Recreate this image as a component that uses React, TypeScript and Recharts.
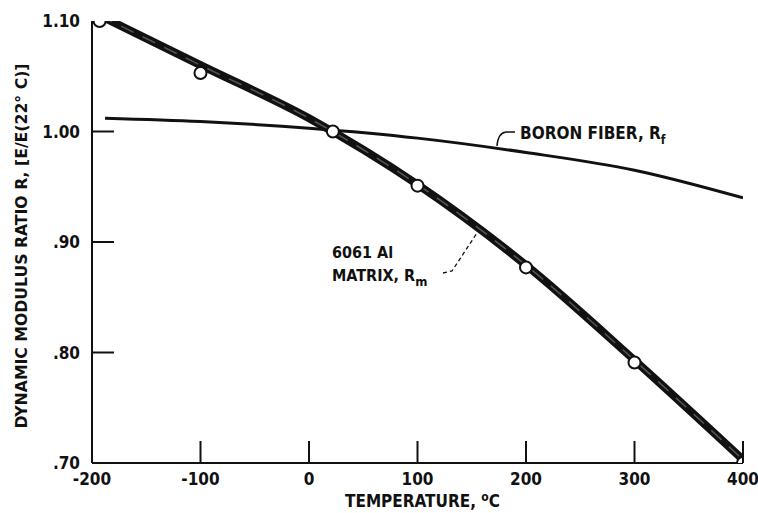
import React from "react";
import { ComposedChart, Line, Scatter, XAxis, YAxis } from "recharts";

// temperature, deg C
const matrixTemps = [-193, -100, 0, 100, 200, 300, 400];
const matrixRatio = [1.105, 1.06, 1.012, 0.952, 0.879, 0.793, 0.703];

const pointTemps = [-193, -100, 22, 100, 200, 300, 400];
const pointRatio = [1.1, 1.053, 1.0, 0.951, 0.877, 0.791, 0.7];

const fiberTemps = [-188, -100, 0, 100, 200, 300, 400];
const fiberRatio = [1.012, 1.009, 1.003, 0.994, 0.981, 0.965, 0.94];

const xTicks = [-200, -100, 0, 100, 200, 300, 400];
const yTicks = [0.7, 0.8, 0.9, 1.0, 1.1];

const matrixLine = matrixTemps.map((t, i) => ({ t, r: matrixRatio[i] }));
const matrixPoints = pointTemps.map((t, i) => ({ t, r: pointRatio[i] }));
const fiberLine = fiberTemps.map((t, i) => ({ t, r: fiberRatio[i] }));

const FONT = "'Liberation Sans Narrow', 'DejaVu Sans Condensed', 'Liberation Sans', sans-serif";

const fmtY = (v: number) => (v >= 1 ? v.toFixed(2) : v.toFixed(2).slice(1));

const YTick = (props: any) => {
  const { x, y, payload } = props;
  const v = payload.value;
  const axisX = x + 8;
  return (
    <g>
      <text x={x - 4} y={y + 6} textAnchor="end" fontFamily={FONT} fontWeight="bold" fontSize={17} fill="#111">
        {fmtY(v)}
      </text>
      {v > 0.75 && v < 1.05 && <line x1={axisX} x2={axisX + 22} y1={y} y2={y} stroke="#111" strokeWidth={2} />}
    </g>
  );
};

const XTick = (props: any) => {
  const { x, y, payload } = props;
  const v = payload.value;
  const axisY = y - 6;
  return (
    <g>
      <text x={x} y={axisY + 22} textAnchor="middle" fontFamily={FONT} fontWeight="bold" fontSize={17} fill="#111">
        {v}
      </text>
      {v > -200 && <line x1={x} x2={x} y1={axisY} y2={axisY - 22} stroke="#111" strokeWidth={2} />}
    </g>
  );
};

export default function App() {
  return (
    <div style={{ position: "absolute", left: 0, top: 0, background: "#fff" }}>
      <ComposedChart width={758} height={513} margin={{ top: 21, right: 15, bottom: 0, left: 0 }}>
        <XAxis
          dataKey="t"
          type="number"
          domain={[-200, 400]}
          ticks={xTicks}
          tickLine={false}
          tickSize={0}
          tickMargin={6}
          tick={<XTick />}
          height={50}
          axisLine={{ stroke: "#111", strokeWidth: 2 }}
          allowDataOverflow
        />
        <YAxis
          dataKey="r"
          type="number"
          domain={[0.7, 1.1]}
          ticks={yTicks}
          tickLine={false}
          tickSize={0}
          tickMargin={8}
          tick={<YTick />}
          width={92}
          axisLine={{ stroke: "#111", strokeWidth: 2 }}
          allowDataOverflow
        />
        <Line data={fiberLine} dataKey="r" type="monotone" stroke="#111" strokeWidth={3} dot={false} isAnimationActive={false} />
        <Line data={matrixLine} dataKey="r" type="monotone" stroke="#111" strokeWidth={8} dot={false} isAnimationActive={false} />
        <Line data={matrixLine} dataKey="r" type="monotone" stroke="#555" strokeWidth={1.5} strokeDasharray="14 10" dot={false} isAnimationActive={false} />
        <Scatter data={matrixPoints} dataKey="r" fill="#fff" stroke="#111" strokeWidth={2} shape={(p: any) => <circle cx={p.cx} cy={p.cy} r={6} fill="#fff" stroke="#111" strokeWidth={2} />} isAnimationActive={false} />

        {/* annotations */}
        <path d="M497,146 Q498,133 506,132 L515,132" fill="none" stroke="#111" strokeWidth={1.5} />
        <text x={520} y={139} fontFamily={FONT} fontWeight="bold" fontSize={17} fill="#111">
          BORON FIBER, R<tspan fontSize={12} dy={5}>f</tspan>
        </text>
        <path d="M443,273 L452,271 L477,233" fill="none" stroke="#111" strokeWidth={1.3} strokeDasharray="4 3" />
        <text x={332} y={258} fontFamily={FONT} fontWeight="bold" fontSize={16} fill="#111">
          6061 Al
        </text>
        <text x={332} y={281} fontFamily={FONT} fontWeight="bold" fontSize={16} fill="#111">
          MATRIX, R<tspan fontSize={13} dy={5}>m</tspan>
        </text>
        <text x={345} y={507} fontFamily={FONT} fontWeight="bold" fontSize={17} fill="#111">
          TEMPERATURE, <tspan fontSize={12} dy={-6}>o</tspan><tspan dy={6}>C</tspan>
        </text>
        <text
          x={27}
          y={246}
          transform="rotate(-90 27 246)"
          textAnchor="middle"
          fontFamily={FONT}
          fontWeight="bold"
          fontSize={16}
          textLength={365}
          lengthAdjust="spacingAndGlyphs"
          fill="#111"
        >
          DYNAMIC MODULUS RATIO R, [E/E(22° C)]
        </text>
      </ComposedChart>
    </div>
  );
}
